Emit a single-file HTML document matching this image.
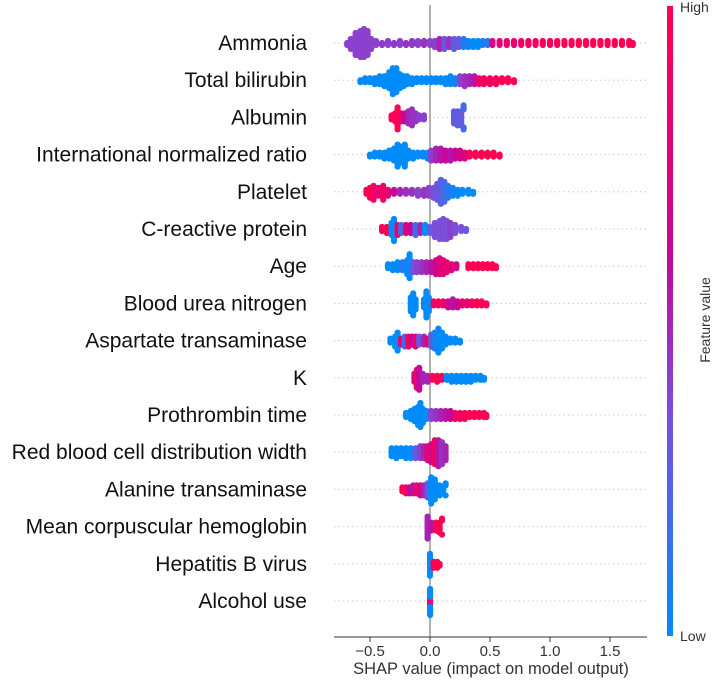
<!DOCTYPE html>
<html><head><meta charset="utf-8"><style>
html,body{margin:0;padding:0;background:#fff;width:720px;height:680px;overflow:hidden}
svg{display:block}
text{font-family:"Liberation Sans",sans-serif}
</style></head><body>
<svg id="chart" width="720" height="680" viewBox="0 0 720 680" xmlns="http://www.w3.org/2000/svg">
<defs><linearGradient id="cb" x1="0" y1="1" x2="0" y2="0">
<stop offset="0" stop-color="#008bfb"/><stop offset="0.35" stop-color="#7b4fd8"/><stop offset="0.6" stop-color="#c4079b"/><stop offset="1" stop-color="#ff0052"/></linearGradient></defs>
<g id="grid"></g><g id="dots"></g><g id="axes"></g>
<rect x="667" y="6" width="6" height="630" fill="url(#cb)"/>
<text x="680" y="12" font-size="14" fill="#333">High</text>
<text x="680" y="641" font-size="14" fill="#333">Low</text>
<text x="0" y="0" font-size="14" fill="#333" text-anchor="middle" transform="translate(710,320) rotate(-90)">Feature value</text>
<text x="491" y="674" font-size="16.5" fill="#333" text-anchor="middle">SHAP value (impact on model output)</text>
</svg>
<script>
const features=["Ammonia","Total bilirubin","Albumin","International normalized ratio","Platelet","C-reactive protein","Age","Blood urea nitrogen","Aspartate transaminase","K","Prothrombin time","Red blood cell distribution width","Alanine transaminase","Mean corpuscular hemoglobin","Hepatitis B virus","Alcohol use"];
const xTicks=[-0.5,0,0.5,1,1.5];
const xTickLabels=["\u22120.5","0.0","0.5","1.0","1.5"];
// each entry: [shap value, number of samples, feature value 0..1]
const ammonia=[[-0.69,2,.4],[-0.66,6,.4],[-0.62,12,.4],[-0.58,14,.4],[-0.55,15,.4],[-0.52,13,.4],[-0.49,6,.4],[-0.45,3,.4],[-0.4,2,.42],[-0.35,3,.4],[-0.3,2,.42],[-0.25,3,.4],[-0.2,2,.45],[-0.15,3,.42],[-0.1,3,.4],[-0.05,3,.45],[0,3,.4],[0.04,4,.4],[0.08,6,.5],[0.12,6,.3],[0.16,5,.45],[0.2,6,.25],[0.24,5,.3],[0.28,5,.1],[0.32,4,.05],[0.36,4,0],[0.4,4,0],[0.44,3,.05],[0.48,3,.1],[0.52,3,.75],[0.58,3,.8],[0.64,3,.85],[0.7,3,.85],[0.76,3,.9],[0.82,3,.9],[0.88,3,.92],[0.94,3,.95],[1.0,3,.95],[1.06,3,.97],[1.12,3,.97],[1.18,3,1],[1.24,3,1],[1.3,3,1],[1.36,3,1],[1.42,3,1],[1.48,3,1],[1.54,3,1],[1.6,3,1],[1.66,3,1],[1.69,2,1]];
const bilirubin=[[-0.58,2,0],[-0.54,3,0],[-0.5,3,0],[-0.46,4,0],[-0.42,5,0],[-0.38,6,0],[-0.34,9,0],[-0.31,14,0],[-0.28,13,0],[-0.25,8,0],[-0.22,6,0],[-0.19,5,0],[-0.15,4,0],[-0.11,3,0],[-0.07,3,0],[-0.03,3,0],[0.01,3,0],[0.05,3,0],[0.09,3,0],[0.13,4,0],[0.17,5,0],[0.21,4,.05],[0.25,5,.4],[0.29,6,.45],[0.33,5,.5],[0.37,5,.55],[0.41,4,.9],[0.45,4,.95],[0.5,4,.9],[0.55,4,1],[0.6,3,1],[0.65,3,1],[0.7,2,1]];
const albumin=[[-0.32,3,1],[-0.29,5,1],[-0.27,12,1],[-0.24,5,.9],[-0.21,5,.6],[-0.18,7,.5],[-0.15,9,.45],[-0.12,5,.45],[-0.09,3,.4],[-0.05,3,.4],[0.2,7,.3],[0.23,8,.25],[0.26,8,.3],[0.28,5,.2]];
const inr=[[-0.5,2,0],[-0.46,3,0],[-0.42,3,0],[-0.38,4,0],[-0.34,5,0],[-0.3,7,0],[-0.27,12,0],[-0.24,9,0],[-0.21,12,0],[-0.18,5,0],[-0.14,4,0],[-0.1,3,0],[-0.06,3,0],[-0.02,4,0],[0.01,6,.4],[0.05,7,.5],[0.09,7,.55],[0.13,6,.6],[0.17,6,.55],[0.21,5,.6],[0.25,5,.7],[0.29,4,.75],[0.33,3,.95],[0.38,3,1],[0.43,3,1],[0.48,3,1],[0.53,3,1],[0.58,2,1]];
const platelet=[[-0.53,3,1],[-0.5,6,1],[-0.47,8,.9],[-0.43,5,.85],[-0.39,8,.9],[-0.35,4,.8],[-0.3,3,.6],[-0.25,3,.5],[-0.2,3,.45],[-0.15,3,.45],[-0.1,4,.4],[-0.05,4,.45],[-0.01,5,.4],[0.03,6,.35],[0.06,9,.3],[0.09,13,.25],[0.12,11,.2],[0.15,7,.1],[0.19,5,.05],[0.23,4,0],[0.27,3,0],[0.32,3,0],[0.36,2,0]];
const crp=[[-0.4,3,1],[-0.36,4,1],[-0.32,7,0],[-0.3,12,0],[-0.27,6,.9],[-0.24,5,.2],[-0.2,5,.8],[-0.16,5,.6],[-0.12,6,.2],[-0.08,5,.5],[-0.04,5,0],[0,4,.3],[0.04,8,.35],[0.08,10,.35],[0.11,11,.35],[0.14,10,.35],[0.17,8,.4],[0.21,5,.35],[0.26,3,.35],[0.3,2,.3]];
const age=[[-0.35,3,0],[-0.31,4,0],[-0.27,5,0],[-0.23,5,.1],[-0.19,8,0],[-0.17,13,0],[-0.14,6,.3],[-0.11,6,.4],[-0.07,6,.45],[-0.03,6,.5],[0.01,6,.55],[0.05,8,.7],[0.08,9,.75],[0.11,8,.8],[0.14,6,.85],[0.18,4,.8],[0.22,3,.7],[0.32,3,1],[0.36,3,1],[0.4,3,1],[0.44,3,1],[0.48,3,1],[0.52,3,1],[0.55,2,1]];
const bun=[[-0.16,8,0],[-0.14,12,0],[-0.12,6,0],[-0.05,5,0],[-0.03,14,0],[-0.01,8,0],[0.03,3,.9],[0.07,3,.95],[0.11,3,.9],[0.15,4,.7],[0.19,5,.55],[0.23,4,.65],[0.27,3,.9],[0.31,3,.8],[0.35,3,.95],[0.39,3,1],[0.43,3,1],[0.47,2,1]];
const ast=[[-0.33,3,0],[-0.29,6,0],[-0.27,10,0],[-0.24,4,.9],[-0.21,6,.2],[-0.18,6,.9],[-0.15,5,.6],[-0.12,6,.85],[-0.09,5,.3],[-0.05,5,.5],[-0.02,4,.9],[0.01,7,.3],[0.04,9,.1],[0.07,13,0],[0.1,9,0],[0.13,5,0],[0.17,3,0],[0.21,3,0],[0.25,2,0]];
const kval=[[-0.13,5,.7],[-0.11,10,.85],[-0.09,12,.6],[-0.06,5,.5],[-0.02,4,.5],[0.02,3,1],[0.06,4,1],[0.1,3,.9],[0.14,3,0],[0.18,4,0],[0.22,4,0],[0.26,4,0],[0.3,4,0],[0.34,4,0],[0.38,3,0],[0.42,3,0],[0.45,2,0]];
const pt=[[-0.2,3,0],[-0.16,5,0],[-0.13,7,0],[-0.1,10,0],[-0.08,13,0],[-0.06,8,0],[-0.03,5,0],[0.01,5,.4],[0.05,5,.45],[0.09,5,.5],[0.13,5,.55],[0.17,5,.6],[0.21,4,.85],[0.25,4,.9],[0.29,4,.95],[0.33,3,1],[0.37,3,1],[0.41,3,1],[0.45,3,1],[0.47,2,1]];
const rdw=[[-0.32,5,0],[-0.28,6,0],[-0.24,5,0],[-0.2,6,0],[-0.16,6,0],[-0.12,6,.3],[-0.08,7,.4],[-0.05,7,.5],[-0.02,8,.8],[0.01,10,.7],[0.04,13,.9],[0.07,14,.55],[0.1,12,.45],[0.13,8,.5]];
const alt=[[-0.23,3,1],[-0.2,4,.95],[-0.17,4,.6],[-0.14,5,.55],[-0.11,5,.9],[-0.08,6,.7],[-0.05,6,.5],[-0.02,8,.3],[0.01,14,0],[0.04,11,0],[0.08,6,0],[0.11,4,0],[0.13,3,0]];
const mch=[[-0.02,12,.5],[0.01,5,.55],[0.05,5,1],[0.08,6,1],[0.1,3,1]];
const hbv=[[0.0,12,0],[0.03,4,1],[0.06,4,1],[0.08,2,1]];
const alcohol=[[0.0,4,.9],[0.001,10,0]];
const rows=[ammonia,bilirubin,albumin,inr,platelet,crp,age,bun,ast,kval,pt,rdw,alt,mch,hbv,alcohol];

const X0=430,PX=120,Y0=43,DY=37.2,AXY=637;
const xs=v=>X0+v*PX;
const ys=i=>Y0+i*DY;
const NS="http://www.w3.org/2000/svg";
function mk(tag,attrs,parent){const e=document.createElementNS(NS,tag);for(const k in attrs)e.setAttribute(k,attrs[k]);parent.appendChild(e);return e;}
function hex(h){return [parseInt(h.substr(1,2),16),parseInt(h.substr(3,2),16),parseInt(h.substr(5,2),16)];}
const stops=[[0,hex("#008bfb")],[0.35,hex("#7b4fd8")],[0.6,hex("#c4079b")],[1,hex("#ff0052")]];
function col(t){for(let i=0;i<stops.length-1;i++){const[a,ca]=stops[i],[b,cb]=stops[i+1];if(t<=b){const f=(t-a)/(b-a);return "rgb("+ca.map((c,j)=>Math.round(c+(cb[j]-c)*f)).join(",")+")";}}return "rgb(255,0,82)";}
const svg=document.getElementById("chart");
const grid=document.getElementById("grid"),dots=document.getElementById("dots"),axes=document.getElementById("axes");
features.forEach((f,i)=>{
  const g=mk("line",{x1:334,x2:647,y1:ys(i),y2:ys(i),stroke:"#ccc","stroke-width":1,"stroke-dasharray":"1.5,3"},grid);
  
  
  const t=mk("text",{x:307,y:ys(i)+7,"font-size":21,"text-anchor":"end",fill:"#111"},svg);
  t.textContent=f;
  
  
});
const zl=mk("line",{x1:X0,x2:X0,y1:5,y2:AXY,stroke:"#999","stroke-width":1.5},grid);


rows.forEach((pts,i)=>{
  const bins={};
  const gg=mk("g",{},dots);
  
  
  pts.forEach(([v,n,fv])=>{
    const x=xs(v);const b=Math.round(x/3.5);
    if(!bins[b])bins[b]=0;
    for(let k=0;k<n;k++){
      const c=bins[b]++;
      const off=(c%2?1:-1)*Math.ceil(c/2)*2.0;
      const d=mk("circle",{cx:x,cy:ys(i)+off,r:3.1,fill:col(fv)},gg);
      
      
    }
  });
});
const ax=mk("line",{x1:334,x2:647,y1:AXY,y2:AXY,stroke:"#333","stroke-width":1},axes);


xTicks.forEach((v,j)=>{
  const tk=mk("line",{x1:xs(v),x2:xs(v),y1:AXY,y2:AXY+5,stroke:"#333"},axes);
  
  
  const tl=mk("text",{x:xs(v),y:AXY+19,"font-size":15,"text-anchor":"middle",fill:"#333"},axes);
  tl.textContent=xTickLabels[j];
  
  
});
</script>
</body></html>
